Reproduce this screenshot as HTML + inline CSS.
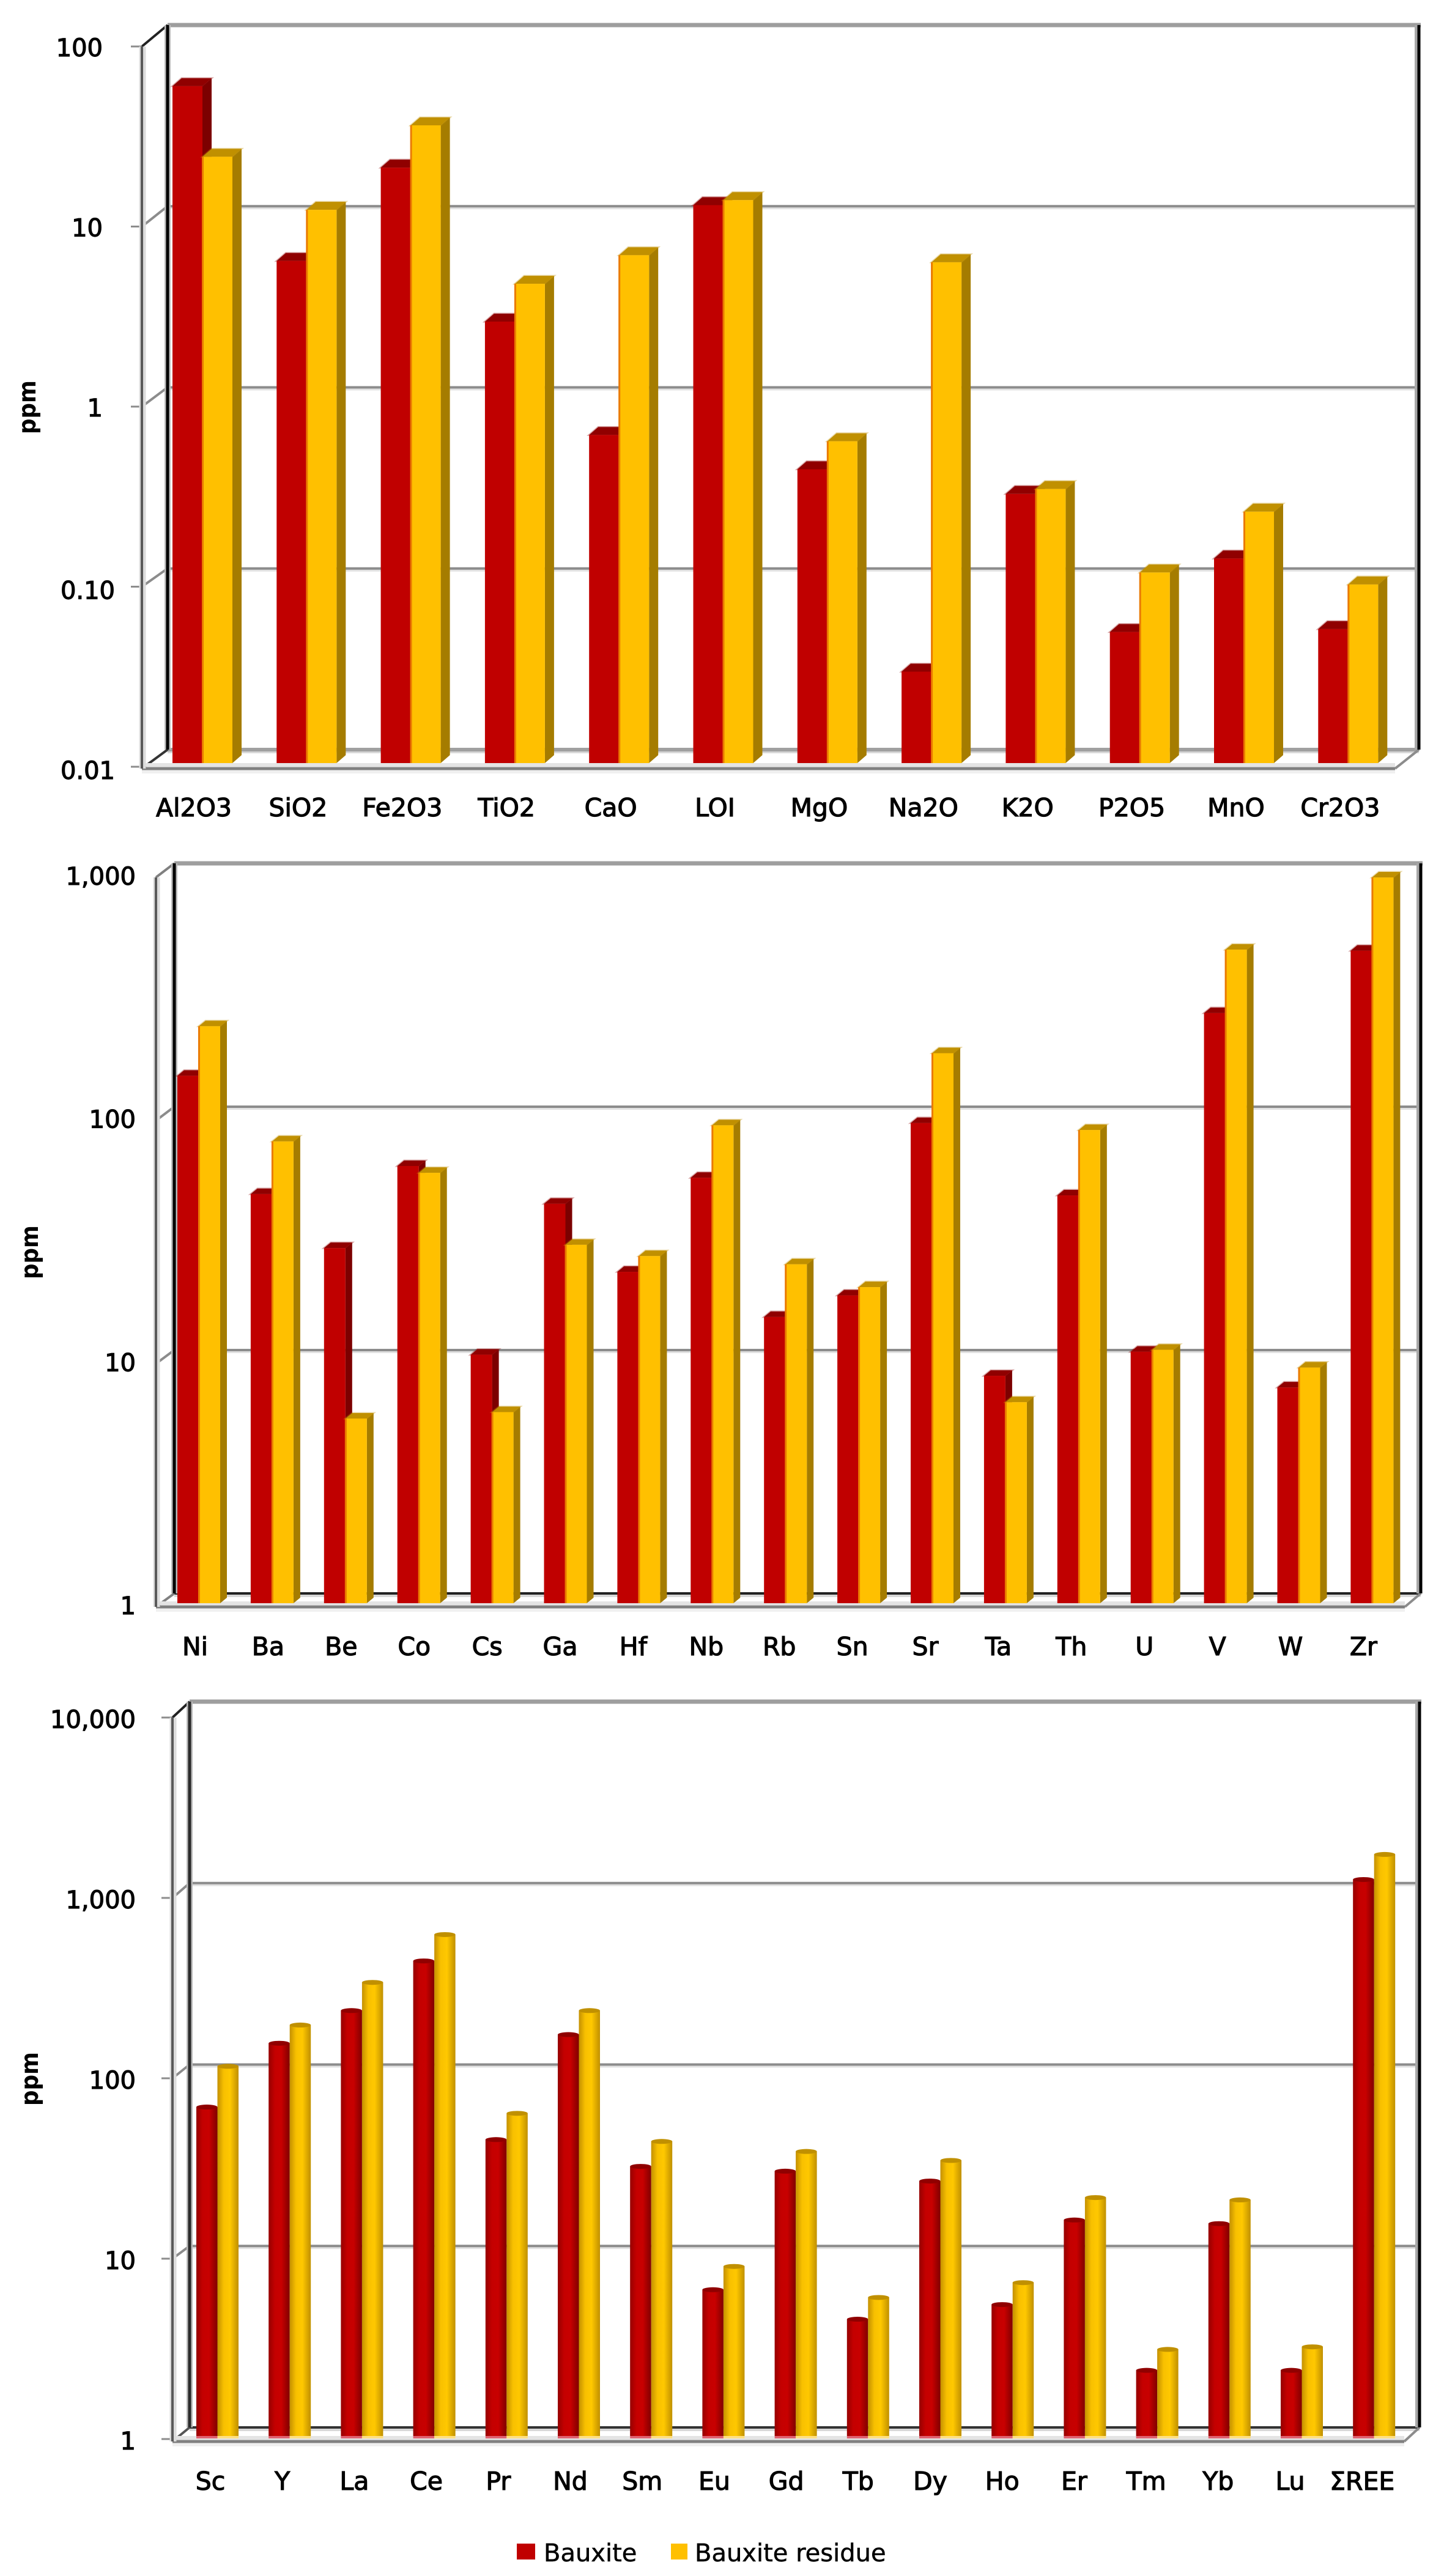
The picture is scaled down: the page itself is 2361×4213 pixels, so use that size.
<!DOCTYPE html>
<html lang="en">
<head>
<meta charset="utf-8">
<title>Bauxite and bauxite residue composition</title>
<style>
html,body{margin:0;padding:0;background:#fff}
svg{display:block}
text{font-family:"DejaVu Sans","Liberation Sans",sans-serif;fill:#000}
.tick{font-size:40px;stroke:#000;stroke-width:1.2px}
.cat{font-size:41px;stroke:#000;stroke-width:1.2px}
.title{font-size:39px;font-weight:bold}
.leg{font-size:40px;stroke:#000;stroke-width:.5px}
</style>
</head>
<body>
<svg id="figure" xmlns="http://www.w3.org/2000/svg" width="2361" height="4213" viewBox="0 0 2361 4213">
<defs>
<linearGradient id="cylRed" x1="0" x2="1" y1="0" y2="0">
<stop offset="0" stop-color="#960000"/><stop offset=".3" stop-color="#c40000"/><stop offset=".6" stop-color="#c80000"/><stop offset="1" stop-color="#800000"/>
</linearGradient>
<linearGradient id="cylYellow" x1="0" x2="1" y1="0" y2="0">
<stop offset="0" stop-color="#c49000"/><stop offset=".3" stop-color="#f8c000"/><stop offset=".6" stop-color="#ffc800"/><stop offset="1" stop-color="#c09000"/>
</linearGradient>
</defs>
<g id="chart-oxides"></g>
<g id="chart-trace"></g>
<g id="chart-ree"></g>
<text class="title" transform="translate(58,710) rotate(-90)" textLength="88" lengthAdjust="spacingAndGlyphs">ppm</text>
<text class="title" transform="translate(62,2092) rotate(-90)" textLength="88" lengthAdjust="spacingAndGlyphs">ppm</text>
<text class="title" transform="translate(62,3444) rotate(-90)" textLength="88" lengthAdjust="spacingAndGlyphs">ppm</text>
<g>
<rect x="845" y="4160" width="30" height="26" fill="#c00000"/>
<text class="leg" x="889" y="4189">Bauxite</text>
<rect x="1097" y="4160" width="27" height="26" fill="#ffc000"/>
<text class="leg" x="1136" y="4189">Bauxite residue</text>
</g>
</svg>
<script>
const oxideCategories = ["Al2O3","SiO2","Fe2O3","TiO2","CaO","LOI","MgO","Na2O","K2O","P2O5","MnO","Cr2O3"];
const oxideBauxite = [55,5.95,19.5,2.75,0.65,12.1,0.42,0.032,0.307,0.053,0.135,0.055];
const oxideResidue = [22.4,11.4,33.4,4.45,6.4,12.9,0.60,5.85,0.327,0.113,0.245,0.097];
const oxideTickValues = [100,10,1,0.1,0.01];
const oxideTickLabels = ["100","10","1","0.10","0.01"];

const traceCategories = ["Ni","Ba","Be","Co","Cs","Ga","Hf","Nb","Rb","Sn","Sr","Ta","Th","U","V","W","Zr"];
const traceBauxite = [147,48,28.8,62.6,10.5,43.8,23,56,15,18.4,94,8.6,47.4,10.8,266,7.7,480];
const traceResidue = [235,79,5.74,58.7,6.1,29.7,26.7,92,24.7,19.9,182,6.7,88,11,485,9.3,960];
const traceTickValues = [1000,100,10,1];
const traceTickLabels = ["1,000","100","10","1"];

const reeCategories = ["Sc","Y","La","Ce","Pr","Nd","Sm","Eu","Gd","Tb","Dy","Ho","Er","Tm","Yb","Lu","ΣREE"];
const reeBauxite = [65,146,221,415,43,163,30.6,6.4,28.8,4.4,25.4,5.3,15.5,2.3,14.8,2.3,1166];
const reeResidue = [109,184,316,580,60,221,42,8.6,37,5.8,33,7,20.6,3,20,3.1,1603];
const reeTickValues = [10000,1000,100,10,1];
const reeTickLabels = ["10,000","1,000","100","10","1"];

const NS = "http://www.w3.org/2000/svg";

function make(parent, tag, attrs, name) {
  const el = document.createElementNS(NS, tag);
  for (const k in attrs) el.setAttribute(k, attrs[k]);
  
  
  parent.appendChild(el);
  return el;
}
function line(parent, x1, y1, x2, y2, stroke, width, name) {
  return make(parent, "line", {x1:x1, y1:y1, x2:x2, y2:y2, stroke:stroke, "stroke-width":width}, name);
}

function drawBox(g, c, tickValues, backScale, frontScale) {
  make(g, "rect", {x:c.backLeft, y:c.backTop, width:c.backRight-c.backLeft, height:c.backBottom-c.backTop, fill:"#fff"}, "plot-back-wall");
  tickValues.forEach(function (v) {
    const by = backScale(v);
    const fy = frontScale(v);
    const isFloor = v === c.min;
    const isTop = v === tickValues[0];
    if (!isFloor && !isTop) {
      line(g, c.backLeft, by + 3, c.backRight, by + 3, "#e2e2e2", 4, "gridline-halo");
      line(g, c.backLeft, by, c.backRight, by, "#8c8c8c", 4, "gridline");
    }
    if (!isFloor) {
      line(g, c.frontLeft, fy, c.backLeft, by, isTop ? c.topDiag : "#8c8c8c", 4, "depth-line");
    }
    if (c.ticks) line(g, c.frontLeft - 18, fy, c.frontLeft, fy, "#8c8c8c", 3, "y-tick");
  });
  line(g, c.backLeft, c.backTop, c.backRight + 3, c.backTop, "#9e9e9e", 7, "plot-top-edge");
  line(g, c.backLeft, c.backBottom + 3, c.backRight, c.backBottom + 3, "#d8d8d8", 6, "floor-back-halo");
  line(g, c.backLeft, c.backBottom, c.backRight, c.backBottom, c.floorColor, c.floorWidth, "floor-back-edge");
  line(g, c.frontLeft, c.frontBottom, c.backLeft, c.backBottom, c.bottomDiag, 4, "floor-left-edge");
  line(g, c.frontRight, c.frontBottom, c.backRight, c.backBottom, "#8c8c8c", 4, "floor-right-edge");
  line(g, c.frontLeft, c.frontBottom - 6, c.frontRight, c.frontBottom - 6, "#e4e4e4", 6, "floor-front-highlight");
  line(g, c.frontLeft, c.frontBottom + 5, c.frontRight, c.frontBottom + 5, "#f0f0f0", 6, "floor-front-shadow");
  line(g, c.frontLeft, c.frontBottom, c.frontRight, c.frontBottom, "#808080", 5, "floor-front-edge");
  line(g, c.frontLeft + 1, frontScale(tickValues[0]), c.frontLeft + 1, c.frontBottom, "#dcdcdc", 11, "front-axis-halo");
  line(g, c.frontLeft, frontScale(tickValues[0]), c.frontLeft, c.frontBottom, "#5a5a5a", 4, "front-y-axis");
  line(g, c.backLeft, c.backTop, c.backLeft, c.backBottom, "#bcbcbc", 10, "back-axis-halo");
  line(g, c.backLeft, c.backTop, c.backLeft, c.backBottom, c.backAxis, 5, "back-y-axis");
  line(g, c.backRight - 3, c.backTop, c.backRight - 3, c.backBottom, "#a8a8a8", 8, "right-wall-halo");
  line(g, c.backRight, c.backTop, c.backRight, c.backBottom, "#000", 5, "right-wall-edge");
}

function drawBlock(g, x, w, y, base, dx, dy, pal, name) {
  make(g, "polygon", {
    points: (x+w)+","+y+" "+(x+w+dx)+","+(y-dy)+" "+(x+w+dx)+","+(base-dy)+" "+(x+w)+","+base,
    fill: pal.side
  }, name + "-side");
  make(g, "polygon", {
    points: x+","+y+" "+(x+dx)+","+(y-dy)+" "+(x+w+dx)+","+(y-dy)+" "+(x+w)+","+y,
    fill: pal.top, stroke: pal.top, "stroke-opacity": 0.35, "stroke-width": 3
  }, name + "-top");
  make(g, "rect", {x:x, y:y, width:w, height:base-y, fill:pal.front}, name);
}

function drawCylinder(g, x, w, y, base, pal, name) {
  make(g, "rect", {x:x, y:base, width:w, height:4, fill:pal.foot}, name + "-foot");
  make(g, "rect", {x:x, y:y, width:w, height:base-y, fill:pal.grad}, name);
  make(g, "ellipse", {cx:x+w/2, cy:y, rx:w/2, ry:4, fill:pal.top}, name + "-top");
}

function drawChart(g, categories, bauxite, residue, tickValues, tickLabels, c) {
  const backScale = function (v) { return c.backBottom - c.backDecade * Math.log10(v / c.min); };
  const frontScale = function (v) { return c.frontBottom - c.frontDecade * Math.log10(v / c.min) + c.frontShift; };
  const barScale = function (v) { return c.barBase - c.barDecade * Math.log10(v / c.min); };
  const catX = function (i) { return c.barStart + i * c.barPitch; };
  const labelX = function (i) { return c.labelStart + i * c.labelPitch; };
  const redPal = {front:"#c00000", top:"#900000", side:"#7c0000", grad:"url(#cylRed)", foot:"#e06070"};
  const yellowPal = {front:"#ffc000", top:"#c09000", side:"#a57c00", grad:"url(#cylYellow)", foot:"#ffe080"};

  drawBox(g, c, tickValues, backScale, frontScale);

  categories.forEach(function (cat, i) {
    const x = catX(i);
    if (c.cylinder) {
      drawCylinder(g, x, c.barWidth, barScale(bauxite[i]), c.barBase, redPal, "bar-bauxite-" + cat);
      drawCylinder(g, x + c.barWidth, c.barWidth, barScale(residue[i]), c.barBase, yellowPal, "bar-residue-" + cat);
    } else {
      drawBlock(g, x, c.barWidth, barScale(bauxite[i]), c.barBase, c.depthX, c.depthY, redPal, "bar-bauxite-" + cat);
      drawBlock(g, x + c.barWidth, c.barWidth, barScale(residue[i]), c.barBase, c.depthX, c.depthY, yellowPal, "bar-residue-" + cat);
      make(g, "rect", {x:x + c.barWidth - 1, y:barScale(residue[i]), width:3, height:c.barBase - barScale(residue[i]), fill:"#ea7a00"}, "bar-separator-" + cat);
    }
    const lab = make(g, "text", {x:labelX(i), y:c.labelY, "text-anchor":"middle", "class":"cat"}, "x-label-" + cat);
    lab.textContent = cat;
  });

  tickLabels.forEach(function (t, i) {
    const dotted = t.indexOf(".") >= 0;
    const el = make(g, "text", {
      x: c.tickRight + (dotted ? 20 : 0),
      y: frontScale(tickValues[i]) + c.tickDrop + (dotted ? 4 : 0),
      "text-anchor": "end",
      "class": "tick"
    }, "y-tick-label-" + t);
    el.textContent = t;
  });
}

drawChart(document.getElementById("chart-oxides"), oxideCategories, oxideBauxite, oxideResidue, oxideTickValues, oxideTickLabels, {
  min:0.01, backLeft:274, backRight:2320, backTop:41, backBottom:1226, backDecade:296.25,
  frontLeft:232, frontRight:2281, frontBottom:1257, frontDecade:294.5, frontShift:-3,
  barBase:1248, barDecade:296, barStart:282, barPitch:170.3, barWidth:49, depthX:15, depthY:13,
  labelStart:317, labelPitch:170.4, labelY:1335, tickRight:168, tickDrop:16,
  ticks:true, cylinder:false, topDiag:"#222", bottomDiag:"#333", floorColor:"#a0a0a0", floorWidth:6, backAxis:"#000"
});
drawChart(document.getElementById("chart-trace"), traceCategories, traceBauxite, traceResidue, traceTickValues, traceTickLabels, {
  min:1, backLeft:285, backRight:2323, backTop:1412, backBottom:2606, backDecade:398,
  frontLeft:255, frontRight:2297, frontBottom:2628, frontDecade:397.7, frontShift:0,
  barBase:2622, barDecade:398, barStart:290, barPitch:119.9, barWidth:35, depthX:11, depthY:9,
  labelStart:319, labelPitch:119.4, labelY:2707, tickRight:222, tickDrop:12,
  ticks:false, cylinder:false, topDiag:"#808080", bottomDiag:"#808080", floorColor:"#222", floorWidth:4, backAxis:"#000"
});
drawChart(document.getElementById("chart-ree"), reeCategories, reeBauxite, reeResidue, reeTickValues, reeTickLabels, {
  min:1, backLeft:310, backRight:2321, backTop:2783, backBottom:3970, backDecade:296.75,
  frontLeft:282, frontRight:2296, frontBottom:3993, frontDecade:295, frontShift:-4,
  barBase:3984, barDecade:296.75, barStart:321, barPitch:118.2, barWidth:34.5, depthX:0, depthY:0,
  labelStart:344, labelPitch:117.7, labelY:4072, tickRight:222, tickDrop:17,
  ticks:true, cylinder:true, topDiag:"#222", bottomDiag:"#555", floorColor:"#333", floorWidth:4, backAxis:"#2a2a2a"
});
</script>
</body>
</html>
